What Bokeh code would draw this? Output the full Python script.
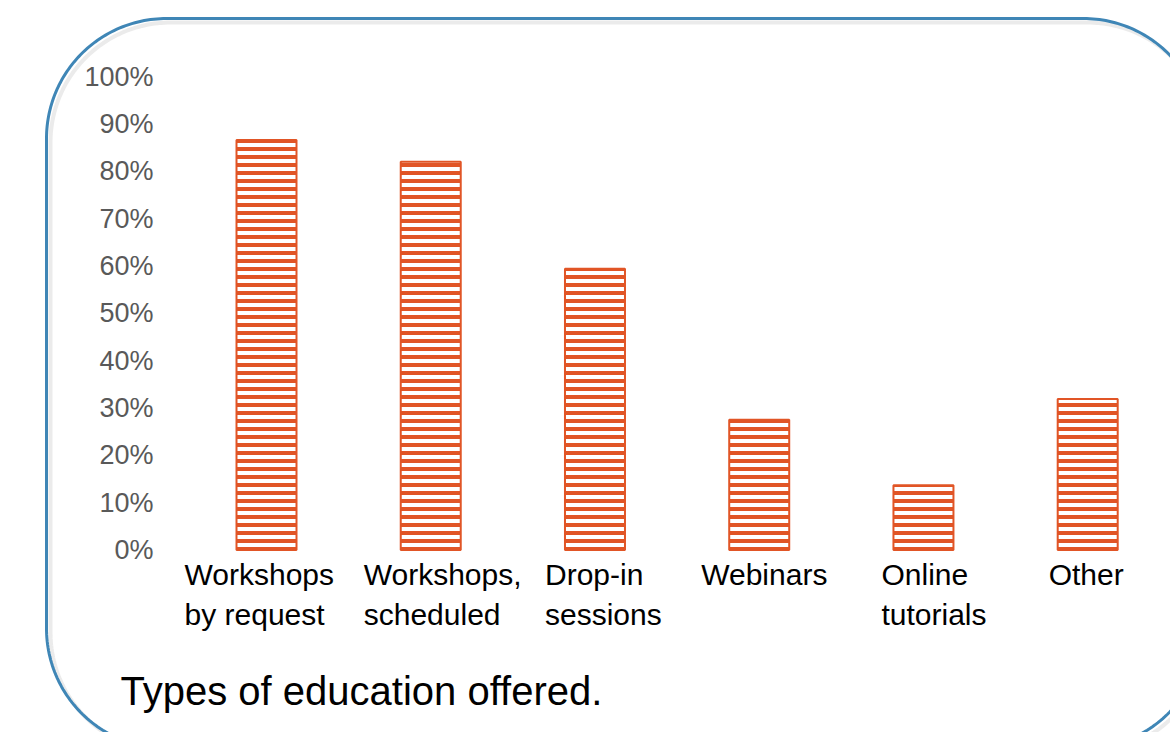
import numpy as np
from bokeh.plotting import figure
from bokeh.models import Range1d, ColumnDataSource
from bokeh.core.properties import value
from bokeh.embed import file_html
from bokeh.resources import INLINE

# ---- data ----
categories = ["Workshops\nby request", "Workshops,\nscheduled", "Drop-in\nsessions",
              "Webinars", "Online\ntutorials", "Other"]
percent = [86.6, 82.0, 59.4, 27.5, 13.7, 31.9]
tick_values = [0, 10, 20, 30, 40, 50, 60, 70, 80, 90, 100]
tick_labels = ["0%", "10%", "20%", "30%", "40%", "50%", "60%", "70%", "80%", "90%", "100%"]
caption = "Types of education offered."

# ---- layout geometry (canvas pixels) ----
W, H = 1170, 732
X0_PX, DX_PX = 266.0, 164.24      # x of first category centre, category spacing
Y0_PX, DY_PX = 549.5, 4.735        # y of 0 %, px per 1 %

def dx(px):
    return (px - X0_PX) / DX_PX

def dy(py):
    return (Y0_PX - py) / DY_PX

p = figure(width=W, height=H, output_backend="svg", toolbar_location=None,
           x_range=Range1d(dx(0), dx(W)), y_range=Range1d(dy(H), dy(0)),
           x_axis_location=None, y_axis_location=None,
           min_border_left=0, min_border_right=0, min_border_top=0, min_border_bottom=0)
p.outline_line_color = None
p.grid.visible = False
p.background_fill_color = "white"
p.border_fill_color = "white"

# rounded frame (decoration)
def rounded_rect(l, t, r, b, rad, n=60):
    pts = []
    for cx, cy, a0 in [(r - rad, t + rad, -90), (r - rad, b - rad, 0),
                       (l + rad, b - rad, 90), (l + rad, t + rad, 180)]:
        for a in np.linspace(a0, a0 + 90, n):
            pts.append((cx + rad * np.cos(np.radians(a)), cy + rad * np.sin(np.radians(a))))
    pts.append(pts[0])
    return [dx(x) for x, _ in pts], [dy(y) for _, y in pts]

sx, sy = rounded_rect(50, 22, 1207, 752, 120)
p.line(sx, sy, line_color="#9a9a9a", line_alpha=0.2, line_width=4)
bx, by = rounded_rect(46, 18, 1203, 748, 120)
p.line(bx, by, line_color="#3F86B6", line_width=3)

# bars
src = ColumnDataSource(dict(x=list(range(len(categories))), top=percent, label=categories,
                            xoff=[-82, -67, -50, -58, -42, -39]))
bar_color = "#E15526"
p.vbar(x="x", top="top", bottom=0, width=60 / DX_PX, source=src,
       fill_color="white", line_color=bar_color, line_width=2,
       hatch_pattern="-", hatch_color=bar_color, hatch_scale=8, hatch_weight=4)

# category labels
p.text(x="x", y=0, text="label", source=src, x_offset="xoff", y_offset=8,
       text_align="left", text_baseline="top", text_font=value("Liberation Sans"),
       text_font_size="30px", text_color="black", text_line_height=1.22)

# y tick labels (positioned by the y scale)
tsrc = ColumnDataSource(dict(y=tick_values, t=tick_labels))
p.text(x=dx(153), y="y", text="t", source=tsrc, text_align="right",
       text_baseline="middle", text_font=value("Liberation Sans"),
       text_font_size="27px", text_color="#595959")

# caption
p.text(x=[dx(120)], y=[dy(690)], text=[caption], text_align="left",
       text_baseline="middle", text_font=value("Liberation Sans"),
       text_font_size="40px", text_color="black")

open("out.html", "w").write(file_html(p, INLINE))
